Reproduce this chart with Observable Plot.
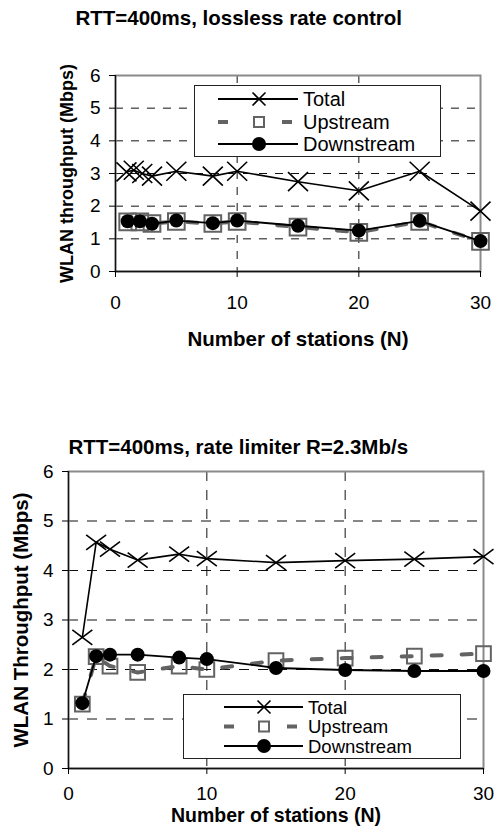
<!DOCTYPE html>
<html>
<head>
<meta charset="utf-8">
<script src="https://cdn.jsdelivr.net/npm/d3@7"></script>
<script src="https://cdn.jsdelivr.net/npm/@observablehq/plot@0.6"></script>
<style>
  body { margin: 0; background: white; }
  #wrap { position: relative; width: 497px; height: 826px; overflow: hidden; font-family: "Liberation Sans", Arial, sans-serif; }
  #wrap > div.chart { position: absolute; left: 0; }
  .legend { position: absolute; background: white; border: 1px solid #222; box-sizing: border-box; }
  .legend svg { display: block; }
</style>
</head>
<body>
<div id="wrap"></div>
<script>
// ---------- data ----------
const stations = [1, 2, 3, 5, 8, 10, 15, 20, 25, 30];
const xTicks = [0, 10, 20, 30];
const yTicks = [0, 1, 2, 3, 4, 5, 6];
const seriesNames = ["Total", "Upstream", "Downstream"];

// Chart 1: RTT=400ms, lossless rate control
const title1 = "RTT=400ms, lossless rate control";
const yLabel1 = "WLAN throughput (Mbps)";
const topTotalN = [0.9, 1.5, 2.2, 3, 5, 8, 10, 15, 20, 25, 30];
const topTotal = [3.05, 3.1, 3.0, 2.92, 3.07, 2.92, 3.07, 2.75, 2.47, 3.07, 1.85];
const topUp = [1.52, 1.52, 1.47, 1.53, 1.47, 1.53, 1.36, 1.2, 1.53, 0.92];
const topDown = [1.54, 1.54, 1.46, 1.56, 1.48, 1.56, 1.4, 1.25, 1.55, 0.93];

// Chart 2: RTT=400ms, rate limiter R=2.3Mb/s
const title2 = "RTT=400ms, rate limiter R=2.3Mb/s";
const yLabel2 = "WLAN Throughput (Mbps)";
const botTotal = [2.65, 4.57, 4.43, 4.21, 4.33, 4.24, 4.16, 4.2, 4.23, 4.28];
const botUp = [1.3, 2.26, 2.07, 1.94, 2.07, 2.0, 2.18, 2.23, 2.27, 2.32];
const botDown = [1.32, 2.27, 2.3, 2.3, 2.24, 2.21, 2.03, 1.99, 1.97, 1.97];

const xLabel = "Number of stations (N)";

// ---------- helpers ----------
const rows = (ns, vs) => ns.map((n, i) => ({n, v: vs[i]}));
const crossSymbol = (w, h) => ({
  draw(ctx) {
    ctx.moveTo(-w / 2, -h / 2); ctx.lineTo(w / 2, h / 2);
    ctx.moveTo(w / 2, -h / 2); ctx.lineTo(-w / 2, h / 2);
  }
});

const UPCOLOR = "#636363";

function chart(c) {
  const tot = rows(c.totalN, c.total);
  const up = rows(stations, c.up);
  const down = rows(stations, c.down);
  return Plot.plot({
    width: 497,
    height: c.height,
    marginTop: c.mt, marginLeft: c.ml, marginRight: c.mr, marginBottom: c.mb,
    style: {fontFamily: "'Liberation Sans', Arial, sans-serif", fontSize: "19px", color: "black", background: "white"},
    x: {domain: [0, 30]},
    y: {domain: [0, 6]},
    marks: [
      Plot.gridY([1, 2, 3, 4, 5], {stroke: "#111", strokeOpacity: 1, strokeWidth: 1, strokeDasharray: c.dash}),
      Plot.gridX([10, 20], {stroke: "#111", strokeOpacity: 1, strokeWidth: 1, strokeDasharray: c.dash}),
      Plot.frame({stroke: "#8a8a8a", strokeWidth: 2}),
      Plot.ruleX([0], {stroke: "#111", strokeWidth: 1.3}),
      Plot.ruleY([0], {stroke: "#111", strokeWidth: 1.3}),
      Plot.axisY({ticks: yTicks, tickSize: 6, tickPadding: 9, label: null, fontSize: 19, tickFormat: d => String(d)}),
      Plot.axisX({ticks: xTicks, tickSize: 6, tickPadding: c.xpad, label: null, fontSize: 19, tickFormat: d => String(d)}),
      // Upstream
      Plot.line(up, {x: "n", y: "v", stroke: UPCOLOR, strokeWidth: 4, strokeDasharray: "10,20"}),
      Plot.dot(up, {x: "n", y: "v", symbol: "square", r: c.sqR, stroke: UPCOLOR, strokeWidth: 2, fill: "none"}),
      // Downstream
      Plot.line(down, {x: "n", y: "v", stroke: "black", strokeWidth: 1.8}),
      Plot.dot(down, {x: "n", y: "v", r: 7, fill: "black", stroke: "none"}),
      // Total
      Plot.line(tot, {x: "n", y: "v", stroke: "black", strokeWidth: 1.6}),
      Plot.dot(tot, {x: "n", y: "v", symbol: crossSymbol(c.xw, c.xh), stroke: "black", strokeWidth: 1.6, fill: "none"}),
      // Titles
      Plot.text([c.title], {text: d => d, frameAnchor: "top-left", textAnchor: "start", lineAnchor: "middle", dx: c.tdx, dy: c.tdy, fontWeight: "bold", fontSize: 20.5}),
      Plot.text([c.yLabel], {text: d => d, frameAnchor: "left", rotate: -90, textAnchor: "middle", lineAnchor: "middle", dx: c.ydx, fontWeight: "bold", fontSize: c.yfs}),
      Plot.text([xLabel], {text: d => d, frameAnchor: "bottom", textAnchor: "middle", lineAnchor: "middle", dy: c.xdy, fontWeight: "bold", fontSize: c.xfs})
    ]
  });
}

function legend(L) {
  const div = document.createElement("div");
  div.className = "legend";
  Object.assign(div.style, {left: L.left + "px", top: L.top + "px", width: L.w + "px", height: L.h + "px"});
  const w = L.w - 2, h = L.h - 2;
  let s = `<svg width="${w}" height="${h}" font-family="'Liberation Sans', Arial, sans-serif" font-size="${L.fs}">`;
  seriesNames.forEach((name, i) => {
    const y = L.rowsY[i], x0 = L.x0, x1 = L.x1, m = L.mx;
    if (name === "Upstream") {
      s += `<line x1="${x0}" x2="${x0 + 10}" y1="${y}" y2="${y}" stroke="${UPCOLOR}" stroke-width="4"/>`;
      s += `<line x1="${x1 - 16}" x2="${x1 - 6}" y1="${y}" y2="${y}" stroke="${UPCOLOR}" stroke-width="4"/>`;
      s += `<rect x="${m - 5}" y="${y - 5}" width="10" height="10" fill="none" stroke="${UPCOLOR}" stroke-width="2"/>`;
    } else {
      s += `<line x1="${x0}" x2="${x1}" y1="${y}" y2="${y}" stroke="black" stroke-width="1.8"/>`;
      if (name === "Total") {
        s += `<path d="M${m - 6.5},${y - 6.5}L${m + 6.5},${y + 6.5}M${m + 6.5},${y - 6.5}L${m - 6.5},${y + 6.5}" stroke="black" stroke-width="1.6" fill="none"/>`;
      } else {
        s += `<circle cx="${m}" cy="${y}" r="7" fill="black"/>`;
      }
    }
    s += `<text x="${L.tx}" y="${y}" dy="0.36em">${name}</text>`;
  });
  s += `</svg>`;
  div.innerHTML = s;
  return div;
}

const wrap = document.getElementById("wrap");

const c1 = chart({
  totalN: topTotalN, total: topTotal, up: topUp, down: topDown,
  height: 360, mt: 75, ml: 115, mr: 17, mb: 89,
  dash: "8,8", xpad: 18, sqR: 9.4, xw: 20, xh: 19,
  title: title1, tdx: -40, tdy: -57, yLabel: yLabel1, ydx: -48, yfs: 18, xdy: 68, xfs: 20.5
});
const d1 = document.createElement("div"); d1.className = "chart"; d1.style.top = "0px"; d1.appendChild(c1); wrap.appendChild(d1);

const c2 = chart({
  totalN: stations, total: botTotal, up: botUp, down: botDown,
  height: 406, mt: 51, ml: 68, mr: 14, mb: 58,
  dash: "10,9", xpad: 12, sqR: 8.3, xw: 20, xh: 15,
  title: title2, tdx: 0, tdy: -24, yLabel: yLabel2, ydx: -47, yfs: 20.5, xdy: 47.5, xfs: 19.5
});
const d2 = document.createElement("div"); d2.className = "chart"; d2.style.top = "420px"; d2.appendChild(c2); wrap.appendChild(d2);

wrap.appendChild(legend({left: 194, top: 85, w: 247, h: 72, rowsY: [13, 36, 58], x0: 23, x1: 103, mx: 64, tx: 108, fs: 20}));
wrap.appendChild(legend({left: 183, top: 694, w: 278, h: 65, rowsY: [12, 31.5, 51], x0: 40, x1: 119, mx: 80, tx: 124, fs: 18.5}));
</script>
</body>
</html>
